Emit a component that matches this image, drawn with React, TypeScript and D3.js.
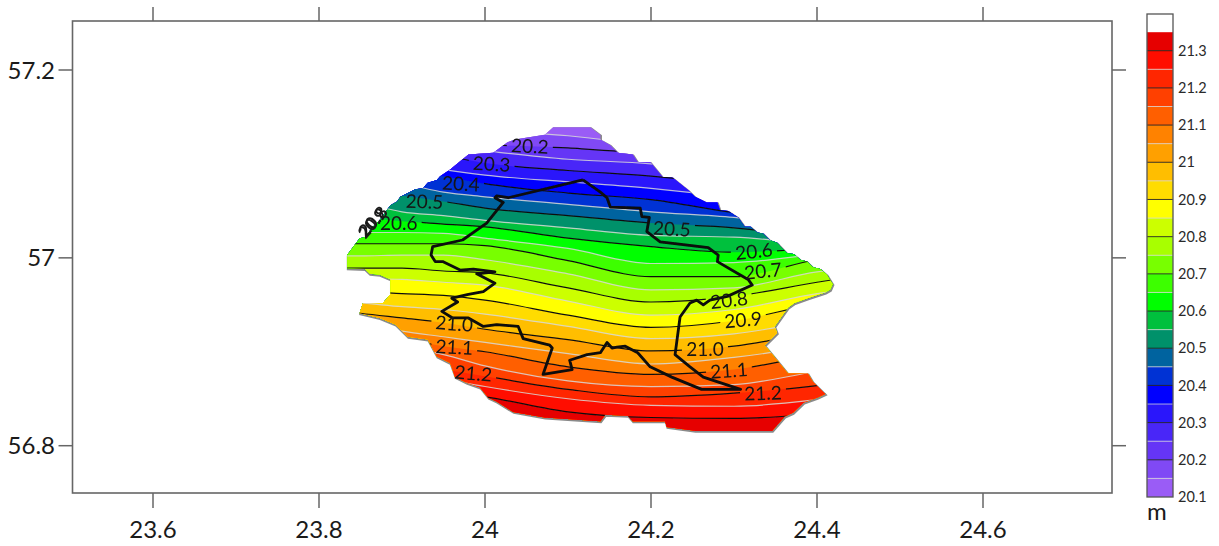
import React from "react";
import * as d3 from "d3";

const WIDTH = 1219;
const HEIGHT = 546;

const xTicks = [23.6, 23.8, 24, 24.2, 24.4, 24.6];
const yTicks = [56.8, 57, 57.2];
const lonGrid = [23.8, 23.85, 23.9, 23.95, 24, 24.1, 24.2, 24.3, 24.4, 24.45];

const lat2015 = [57.16, 57.153, 57.147, 57.14, 57.136, 57.13, 57.119, 57.104, 57.088, 57.078];
const lat2020 = [57.145, 57.138, 57.132, 57.126, 57.121, 57.117, 57.11, 57.094, 57.078, 57.067];
const lat2025 = [57.138, 57.132, 57.126, 57.119, 57.114, 57.105, 57.1, 57.088, 57.072, 57.062];
const lat2030 = [57.131, 57.123, 57.116, 57.109, 57.101, 57.093, 57.087, 57.077, 57.062, 57.051];
const lat2035 = [57.115, 57.109, 57.101, 57.094, 57.088, 57.081, 57.074, 57.064, 57.051, 57.043];
const lat2040 = [57.104, 57.099, 57.093, 57.087, 57.079, 57.069, 57.062, 57.048, 57.038, 57.03];
const lat2045 = [57.087, 57.083, 57.079, 57.07, 57.065, 57.057, 57.049, 57.043, 57.032, 57.024];
const lat2050 = [57.074, 57.07, 57.066, 57.06, 57.053, 57.045, 57.037, 57.032, 57.021, 57.014];
const lat2055 = [57.064, 57.059, 57.049, 57.045, 57.04, 57.032, 57.024, 57.022, 57.014, 57.009];
const lat2060 = [57.045, 57.043, 57.039, 57.036, 57.033, 57.021, 57.012, 57.006, 57.009, 57.006];
const lat2065 = [57.028, 57.027, 57.027, 57.026, 57.021, 57.01, 56.994, 56.995, 57.004, 57.009];
const lat2070 = [57.015, 57.015, 57.015, 57.015, 57.013, 56.997, 56.98, 56.98, 56.998, 57.003];
const lat2075 = [57.002, 57.002, 57.003, 57.003, 56.998, 56.983, 56.966, 56.968, 56.985, 56.989];
const lat2080 = [56.989, 56.989, 56.989, 56.986, 56.984, 56.968, 56.953, 56.959, 56.974, 56.981];
const lat2085 = [56.979, 56.978, 56.977, 56.974, 56.971, 56.954, 56.939, 56.945, 56.962, 56.968];
const lat2090 = [56.965, 56.964, 56.962, 56.96, 56.955, 56.939, 56.926, 56.933, 56.951, 56.957];
const lat2095 = [56.955, 56.952, 56.948, 56.945, 56.94, 56.927, 56.914, 56.919, 56.934, 56.943];
const lat2100 = [56.947, 56.941, 56.936, 56.931, 56.924, 56.913, 56.901, 56.906, 56.922, 56.93];
const lat2105 = [56.939, 56.931, 56.922, 56.916, 56.91, 56.898, 56.887, 56.894, 56.907, 56.915];
const lat2110 = [56.923, 56.918, 56.913, 56.906, 56.9, 56.884, 56.876, 56.881, 56.897, 56.904];
const lat2115 = [56.918, 56.913, 56.905, 56.897, 56.885, 56.869, 56.863, 56.865, 56.879, 56.885];
const lat2120 = [56.904, 56.897, 56.889, 56.881, 56.874, 56.86, 56.852, 56.856, 56.864, 56.87];
const lat2125 = [56.894, 56.886, 56.879, 56.871, 56.863, 56.85, 56.843, 56.842, 56.849, 56.855];
const lat2130 = [56.877, 56.87, 56.864, 56.857, 56.852, 56.836, 56.83, 56.829, 56.834, 56.838];

const levelLats = [
  lat2015, lat2020, lat2025, lat2030, lat2035, lat2040, lat2045, lat2050,
  lat2055, lat2060, lat2065, lat2070, lat2075, lat2080, lat2085, lat2090,
  lat2095, lat2100, lat2105, lat2110, lat2115, lat2120, lat2125, lat2130,
];
const levels = [
  20.15, 20.2, 20.25, 20.3, 20.35, 20.4, 20.45, 20.5, 20.55, 20.6, 20.65, 20.7,
  20.75, 20.8, 20.85, 20.9, 20.95, 21, 21.05, 21.1, 21.15, 21.2, 21.25, 21.3,
];
const bandEdges = [20.1, ...levels, 21.35];
const bandColors = [
  "#9a5cf6", "#8049f5", "#6536f6", "#4a28f8", "#2a14fb", "#0000ff", "#0030d4", "#00649f",
  "#00916a", "#00c03c", "#00ff00", "#3cff00", "#78ff00", "#a8ff00", "#ccff00", "#ffff00",
  "#ffdc00", "#ffbe00", "#ffa000", "#ff8200", "#ff5e00", "#ff4000", "#ff2800", "#ff0e00",
  "#e60000",
];
const barTicks = [20.1, 20.2, 20.3, 20.4, 20.5, 20.6, 20.7, 20.8, 20.9, 21, 21.1, 21.2, 21.3];

const domainOutline: [number, number][] = [
  [24.082, 57.139], [24.127, 57.139], [24.139, 57.131], [24.139, 57.126], [24.151, 57.12], [24.16, 57.112],
  [24.178, 57.11], [24.184, 57.102], [24.199, 57.102], [24.214, 57.086], [24.225, 57.086], [24.245, 57.072],
  [24.253, 57.065], [24.267, 57.059], [24.28, 57.059], [24.283, 57.051], [24.293, 57.05], [24.305, 57.043],
  [24.313, 57.033], [24.32, 57.033], [24.328, 57.027], [24.335, 57.026], [24.343, 57.019], [24.352, 57.016], [24.364, 57.005],
  [24.372, 57.004], [24.38, 56.998], [24.388, 56.996], [24.395, 56.99], [24.404, 56.988],
  [24.412, 56.982], [24.419, 56.972], [24.416, 56.966], [24.41, 56.963], [24.389, 56.957], [24.373, 56.952],
  [24.365, 56.947], [24.349, 56.927], [24.352, 56.92], [24.337, 56.907], [24.352, 56.891], [24.365, 56.877],
  [24.389, 56.877], [24.395, 56.868], [24.41, 56.855], [24.4, 56.851], [24.384, 56.846], [24.371, 56.835],
  [24.361, 56.831], [24.346, 56.816], [24.253, 56.816], [24.219, 56.82], [24.217, 56.826], [24.178, 56.826],
  [24.172, 56.832], [24.145, 56.833], [24.139, 56.826], [24.072, 56.83], [24.034, 56.836], [24.014, 56.847],
  [24.004, 56.851], [23.994, 56.862], [23.978, 56.867], [23.964, 56.873], [23.958, 56.888], [23.942, 56.895],
  [23.931, 56.913], [23.907, 56.916], [23.892, 56.929], [23.873, 56.936], [23.849, 56.941], [23.853, 56.952],
  [23.877, 56.952], [23.886, 56.961], [23.886, 56.977], [23.873, 56.982], [23.861, 56.983], [23.855, 56.988],
  [23.834, 56.989], [23.834, 57.003], [23.849, 57.021], [23.855, 57.022], [23.865, 57.033], [23.873, 57.04],
  [23.886, 57.056], [23.894, 57.06], [23.898, 57.065], [23.916, 57.073],
  [23.925, 57.074], [23.931, 57.08], [23.942, 57.083], [23.946, 57.087], [23.958, 57.094], [23.98, 57.11], [24.01, 57.112], [24.027, 57.123],
  [24.036, 57.126], [24.072, 57.131],
];

const regionBorder: [number, number][] = [
  [24.118, 57.083], [24.028, 57.064], [24.014, 57.066], [24.012, 57.064], [24.022, 57.059], [24.002, 57.037],
  [23.973, 57.019], [23.937, 57.012], [23.935, 57.003], [23.94, 56.996], [23.949, 56.996], [23.97, 56.987],
  [23.986, 56.988], [24.012, 56.985], [23.99, 56.983], [24.012, 56.973], [23.998, 56.964], [23.98, 56.961],
  [23.96, 56.957], [23.967, 56.953], [23.948, 56.943], [23.961, 56.936], [23.98, 56.936], [23.998, 56.927],
  [24.014, 56.929], [24.04, 56.927], [24.046, 56.914], [24.078, 56.907], [24.081, 56.904], [24.07, 56.876],
  [24.105, 56.881], [24.102, 56.891], [24.123, 56.897], [24.139, 56.899], [24.147, 56.91], [24.153, 56.904],
  [24.159, 56.905], [24.169, 56.906], [24.184, 56.899], [24.199, 56.884], [24.225, 56.873], [24.261, 56.86],
  [24.308, 56.86], [24.263, 56.873], [24.247, 56.884], [24.229, 56.897], [24.235, 56.937], [24.247, 56.952],
  [24.255, 56.955], [24.263, 56.95], [24.271, 56.955], [24.292, 56.959], [24.322, 56.971], [24.317, 56.977],
  [24.305, 56.983], [24.28, 56.996], [24.281, 57.003], [24.269, 57.011], [24.211, 57.017], [24.195, 57.028],
  [24.198, 57.043], [24.189, 57.044], [24.187, 57.053], [24.151, 57.054], [24.147, 57.064], [24.139, 57.07],
  [24.118, 57.083],
];

const labelTexts = ["20.2", "20.3", "20.4", "20.5", "20.6", "20.5", "20.6", "20.7", "20.8", "20.9", "21.0", "21.1", "21.2", "21.0", "21.1", "21.2"];
const labelLons = [24.054, 24.008, 23.971, 23.927, 23.896, 24.225, 24.324, 24.335, 24.294, 24.311, 24.265, 24.294, 24.335, 23.963, 23.963, 23.986];
const labelLats = [57.119, 57.1, 57.079, 57.06, 57.037, 57.031, 57.007, 56.986, 56.955, 56.934, 56.903, 56.88, 56.856, 56.93, 56.905, 56.877];
const labelAngles = [3, 3, 3, 2, 0, 3, -6, -6, -6, -5, 0, -4, -2, 4, 3, 5];
const crowdedTexts = ["20.8", "20.9"];
const crowdedLons = [23.865, 23.864];
const crowdedLats = [57.039, 57.037];

const x = d3.scaleLinear().domain([23.6, 24.6]).range([153, 983]);
const y = d3.scaleLinear().domain([56.8, 57.2]).range([445.7, 70]);
const barY = d3.scaleLinear().domain([20.1, 21.3]).range([497, 50.7]);

const frame = { left: 72.5, right: 1112, top: 21, bottom: 493 };
const AXIS = "#666";
const FONT = "Lato, 'Open Sans', sans-serif";

function App() {
  const poly = d3.line<[number, number]>().x((d) => x(d[0])).y((d) => y(d[1]));
  const outlinePath = poly(domainOutline) + "Z";
  const borderPath = poly(regionBorder);
  const contour = d3
    .line<number>()
    .x((_, i) => x(lonGrid[i]))
    .y((d) => y(d))
    .curve(d3.curveMonotoneX);
  const band = d3
    .area<number>()
    .x((_, i) => x(lonGrid[i]))
    .y0(frame.bottom)
    .y1((d) => y(d))
    .curve(d3.curveMonotoneX);
  const isMajor = (v: number) => Math.abs(v * 10 - Math.round(v * 10)) < 1e-6;

  return (
    <svg width={WIDTH} height={HEIGHT} style={{ position: "absolute", left: 0, top: 0, background: "#fff" }}>
      <defs>
        <clipPath id="domain">
          <path d={outlinePath} />
        </clipPath>
        <filter id="soft" x="-5%" y="-5%" width="110%" height="110%">
          <feGaussianBlur stdDeviation="0.45" />
        </filter>
        <mask id="gaps" maskUnits="userSpaceOnUse" x="0" y="0" width={WIDTH} height={HEIGHT}>
          <rect width={WIDTH} height={HEIGHT} fill="#fff" />
          {labelTexts.map((t, i) => (
            <rect
              key={i}
              x={-23}
              y={-11}
              width={46}
              height={22}
              fill="#000"
              transform={`translate(${x(labelLons[i])},${y(labelLats[i])}) rotate(${labelAngles[i]})`}
            />
          ))}
        </mask>
      </defs>

      <g filter="url(#soft)">
        <path d={outlinePath} transform="translate(0.6,1)" fill="#8a8a8a" stroke="#8a8a8a" strokeWidth={2} />
        <g clipPath="url(#domain)">
          <rect x={frame.left} y={frame.top} width={frame.right - frame.left} height={frame.bottom - frame.top} fill={bandColors[0]} />
          {levelLats.map((lats, i) => (
            <path key={i} d={band(lats) as string} fill={bandColors[i + 1]} />
          ))}
          {levelLats.map((lats, i) =>
            isMajor(levels[i]) ? null : (
              <path key={i} d={contour(lats) as string} fill="none" stroke="#d8d8d8" strokeWidth={1.2} opacity={0.85} />
            ),
          )}
          <g mask="url(#gaps)">
            {levelLats.map((lats, i) =>
              isMajor(levels[i]) ? (
                <path key={i} d={contour(lats) as string} fill="none" stroke="#111" strokeWidth={1.2} />
              ) : null,
            )}
          </g>
        </g>
        <path d={borderPath as string} fill="none" stroke="#0a0a0a" strokeWidth={2.8} strokeLinejoin="round" />
        {labelTexts.map((t, i) => (
          <text
            key={i}
            dy="0.36em"
            textAnchor="middle"
            fontFamily={FONT}
            fontSize={19}
            fill="#141414"
            transform={`translate(${x(labelLons[i])},${y(labelLats[i])}) rotate(${labelAngles[i]})`}
          >
            {t}
          </text>
        ))}
        {crowdedTexts.map((t, i) => (
          <text
            key={i}
            dy="0.36em"
            textAnchor="middle"
            fontFamily={FONT}
            fontSize={17}
            fontWeight={700}
            fill="#1a1a1a"
            transform={`translate(${x(crowdedLons[i])},${y(crowdedLats[i])}) rotate(-48)`}
          >
            {t}
          </text>
        ))}
      </g>

      <rect
        x={frame.left}
        y={frame.top}
        width={frame.right - frame.left}
        height={frame.bottom - frame.top}
        fill="none"
        stroke={AXIS}
        strokeWidth={1.6}
      />
      {xTicks.map((t) => (
        <g key={t}>
          <line x1={x(t)} x2={x(t)} y1={frame.top} y2={frame.top - 14} stroke={AXIS} strokeWidth={1.5} />
          <line x1={x(t)} x2={x(t)} y1={frame.bottom} y2={frame.bottom + 15} stroke={AXIS} strokeWidth={1.5} />
          <text x={x(t)} y={538} textAnchor="middle" fontFamily={FONT} fontSize={24} fill="#1a1a1a">
            {String(t)}
          </text>
        </g>
      ))}
      {yTicks.map((t) => (
        <g key={t}>
          <line x1={frame.left} x2={frame.left - 14} y1={y(t)} y2={y(t)} stroke={AXIS} strokeWidth={1.5} />
          <line x1={frame.right} x2={frame.right + 14} y1={y(t)} y2={y(t)} stroke={AXIS} strokeWidth={1.5} />
          <text x={55} y={y(t)} dy="0.36em" textAnchor="end" fontFamily={FONT} fontSize={24} fill="#1a1a1a">
            {String(t)}
          </text>
        </g>
      ))}

      <g filter="url(#soft)">
        {bandColors.map((c, i) => (
          <rect
            key={c}
            x={1147}
            y={barY(bandEdges[i + 1])}
            width={26}
            height={barY(bandEdges[i]) - barY(bandEdges[i + 1])}
            fill={c}
          />
        ))}
        {levels.map((v) => (
          <line
            key={v}
            x1={1147}
            x2={1173}
            y1={barY(v)}
            y2={barY(v)}
            stroke={isMajor(v) ? "#1a1a1a" : "#d8d8d8"}
            strokeWidth={1}
            opacity={isMajor(v) ? 0.85 : 0.75}
          />
        ))}
        <rect x={1147} y={14} width={26} height={barY(21.35) - 14} fill="#fff" />
        <rect x={1147} y={14} width={26} height={483} fill="none" stroke="#555" strokeWidth={1.3} />
      </g>
      {barTicks.map((t) => (
        <text key={t} x={1178} y={barY(t)} dy="0.36em" fontFamily={FONT} fontSize={14.5} fill="#2a2a2a">
          {t === 21 ? "21" : t.toFixed(1)}
        </text>
      ))}
      <text x={1147} y={520} fontFamily={FONT} fontSize={24} fill="#1a1a1a">
        m
      </text>
    </svg>
  );
}

export default App;
